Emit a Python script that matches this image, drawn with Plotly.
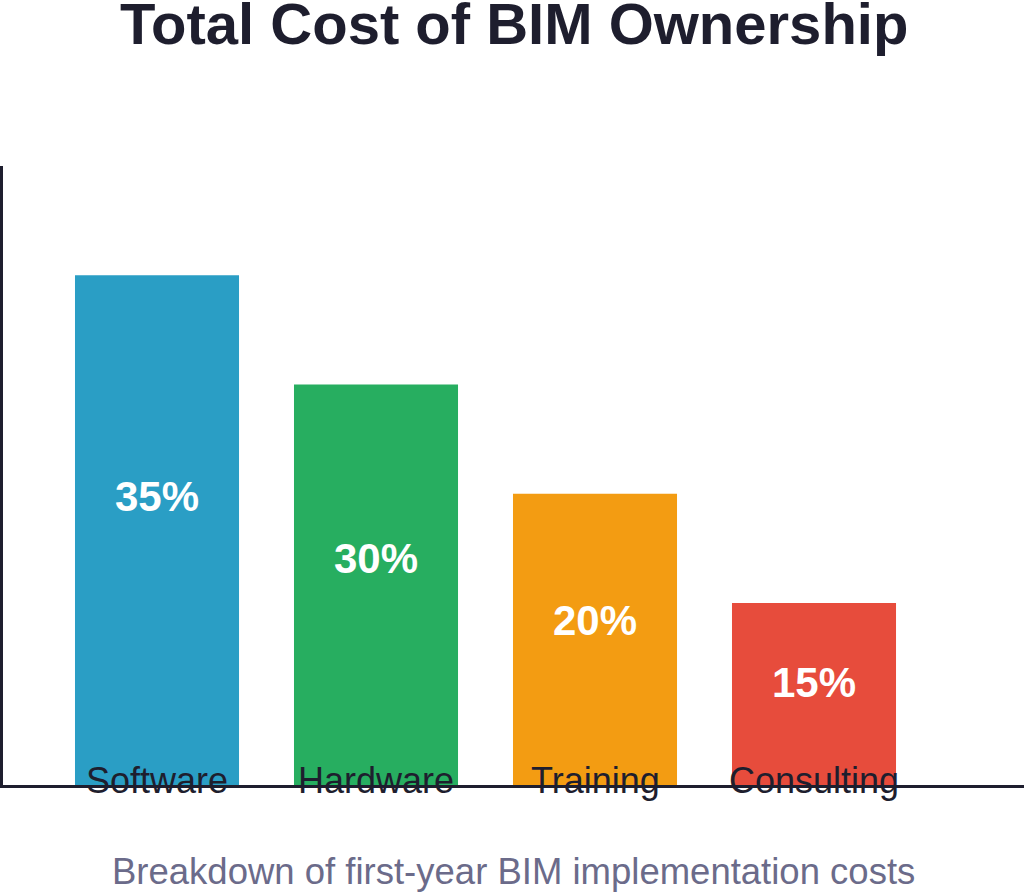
import plotly.graph_objects as go

# ---- data ----
categories = ["Software", "Hardware", "Training", "Consulting"]
values = [14, 11, 8, 5]                 # bar heights
share_labels = ["35%", "30%", "20%", "15%"]
colors = ["#2a9ec5", "#27ae60", "#f39c12", "#e74c3c"]
title_text = "Total Cost of BIM Ownership"
subtitle_text = "Breakdown of first-year BIM implementation costs"

FONT = "Liberation Sans, Arial, sans-serif"
DARK = "#1e1e2e"

x = list(range(len(categories)))

fig = go.Figure()
fig.add_trace(go.Bar(
    x=x, y=values, width=0.749,
    marker=dict(color=colors, line=dict(width=0)),
    hoverinfo="skip", showlegend=False,
))

annotations = []
for xi, v, lab in zip(x, values, share_labels):
    annotations.append(dict(
        x=xi, y=v * 0.565, xref="x", yref="y", text=lab, showarrow=False,
        font=dict(family=FONT, size=42, color="white", weight="bold"),
        xanchor="center", yanchor="middle",
    ))
for xi, c in zip(x, categories):
    annotations.append(dict(
        x=xi, y=0, xref="x", yref="y", text=c, showarrow=False,
        font=dict(family=FONT, size=36, color=DARK),
        xanchor="center", yanchor="middle", yshift=5,
    ))
annotations.append(dict(
    x=0.5, y=1.231, xref="paper", yref="paper", text=title_text, showarrow=False,
    font=dict(family=FONT, size=58, color=DARK, weight="bold"),
    xanchor="center", yanchor="middle",
))
annotations.append(dict(
    x=0.5, y=-0.1405, xref="paper", yref="paper", text=subtitle_text, showarrow=False,
    font=dict(family=FONT, size=36.5, color="#6b6b8a"),
    xanchor="center", yanchor="middle",
))

fig.update_layout(
    width=1024, height=893,
    margin=dict(l=3, r=0, t=166, b=108),
    paper_bgcolor="white", plot_bgcolor="white",
    annotations=annotations,
    xaxis=dict(range=[-0.7032, 3.9589], showgrid=False, zeroline=False,
               showticklabels=False, ticks="", showline=True,
               linecolor=DARK, linewidth=3, fixedrange=True),
    yaxis=dict(range=[0, 17], showgrid=False, zeroline=False,
               showticklabels=False, ticks="", showline=True,
               linecolor=DARK, linewidth=3, fixedrange=True),
)

fig.write_html("out.html", config={"displayModeBar": False})
